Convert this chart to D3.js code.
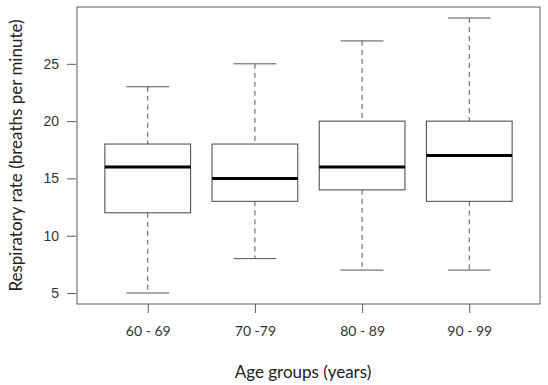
<!DOCTYPE html>
<html>
<head>
<meta charset="utf-8">
<script src="https://cdn.jsdelivr.net/npm/d3@7"></script>
<style>
  body { margin: 0; background: #fff; }
</style>
</head>
<body>
<div id="chart"></div>
<script>
// data
const groups = ["60 - 69", "70 -79", "80 - 89", "90 - 99"];
const lowWhisker = [5, 8, 7, 7];
const q1 = [12, 13, 14, 13];
const medians = [16, 15, 16, 17];
const q3 = [18, 18, 20, 20];
const highWhisker = [23, 25, 27, 29];
const yTicks = [5, 10, 15, 20, 25];

const width = 548, height = 385;
const margin = { top: 7, right: 8, bottom: 81, left: 77 };
const w = width - margin.left - margin.right;
const h = height - margin.top - margin.bottom;

const svg = d3.select("#chart").append("svg")
  .attr("width", width).attr("height", height);
const g = svg.append("g").attr("transform", `translate(${margin.left},${margin.top})`);

// x: positions 1..n, R-like limits
const x = d3.scaleLinear().domain([0.34, groups.length + 0.66]).range([0, w]);
const y = d3.scaleLinear().domain([4.04, 29.96]).range([h, 0]);
const step = x(2) - x(1);
const boxW = step * 0.8;
const capW = boxW / 2;

const data = groups.map((name, i) => ({
  name, pos: i + 1, lo: lowWhisker[i], q1: q1[i], med: medians[i], q3: q3[i], hi: highWhisker[i]
}));

// frame
g.append("rect").attr("x", 0).attr("y", 0).attr("width", w).attr("height", h)
  .attr("fill", "none").attr("stroke", "#5a5a5a").attr("stroke-width", 1);

// y axis
const yAxis = g.append("g").attr("transform", "translate(-1,0)")
  .call(d3.axisLeft(y).tickValues(yTicks).tickSize(9).tickPadding(8));
yAxis.select(".domain").remove();
yAxis.selectAll("line").attr("stroke", "#5a5a5a");
yAxis.selectAll("text").attr("fill", "#333").style("font-family", "Liberation Sans, Arial, sans-serif").style("font-size", "14px");

// x axis
const xAxis = g.append("g").attr("transform", `translate(0,${h})`)
  .call(d3.axisBottom(x).tickValues(data.map(d => d.pos)).tickFormat((d, i) => groups[i]).tickSize(9).tickPadding(13));
xAxis.select(".domain").remove();
xAxis.selectAll("line").attr("stroke", "#5a5a5a");
xAxis.selectAll("text").attr("fill", "#333").style("font-family", "Lato, sans-serif").style("font-size", "14px");

// whiskers (dashed)
const boxes = g.selectAll(".box").data(data).enter().append("g").attr("class", "box");
boxes.append("line")
  .attr("x1", d => x(d.pos)).attr("x2", d => x(d.pos))
  .attr("y1", d => y(d.hi)).attr("y2", d => y(d.q3))
  .attr("stroke", "#555").attr("stroke-dasharray", "5,4");
boxes.append("line")
  .attr("x1", d => x(d.pos)).attr("x2", d => x(d.pos))
  .attr("y1", d => y(d.q1)).attr("y2", d => y(d.lo))
  .attr("stroke", "#555").attr("stroke-dasharray", "5,4");

// caps
boxes.append("line")
  .attr("x1", d => x(d.pos) - capW / 2).attr("x2", d => x(d.pos) + capW / 2)
  .attr("y1", d => y(d.hi)).attr("y2", d => y(d.hi))
  .attr("stroke", "#555");
boxes.append("line")
  .attr("x1", d => x(d.pos) - capW / 2).attr("x2", d => x(d.pos) + capW / 2)
  .attr("y1", d => y(d.lo)).attr("y2", d => y(d.lo))
  .attr("stroke", "#555");

// boxes
boxes.append("rect")
  .attr("x", d => x(d.pos) - boxW / 2).attr("width", boxW)
  .attr("y", d => y(d.q3)).attr("height", d => y(d.q1) - y(d.q3))
  .attr("fill", "#fff").attr("stroke", "#444");

// medians
boxes.append("line")
  .attr("x1", d => x(d.pos) - boxW / 2).attr("x2", d => x(d.pos) + boxW / 2)
  .attr("y1", d => y(d.med)).attr("y2", d => y(d.med))
  .attr("stroke", "#000").attr("stroke-width", 3);

// axis titles
svg.append("text")
  .attr("transform", `translate(15,${margin.top + h / 2}) rotate(-90)`)
  .attr("text-anchor", "middle").attr("dominant-baseline", "central")
  .attr("fill", "#222")
  .style("font-family", "Lato, sans-serif").style("font-size", "17px")
  .text("Respiratory rate (breaths per minute)");

svg.append("text")
  .attr("x", 303).attr("y", 378)
  .attr("text-anchor", "middle")
  .attr("fill", "#222")
  .style("font-family", "Lato, sans-serif").style("font-size", "17px")
  .text("Age groups (years)");
</script>
</body>
</html>
